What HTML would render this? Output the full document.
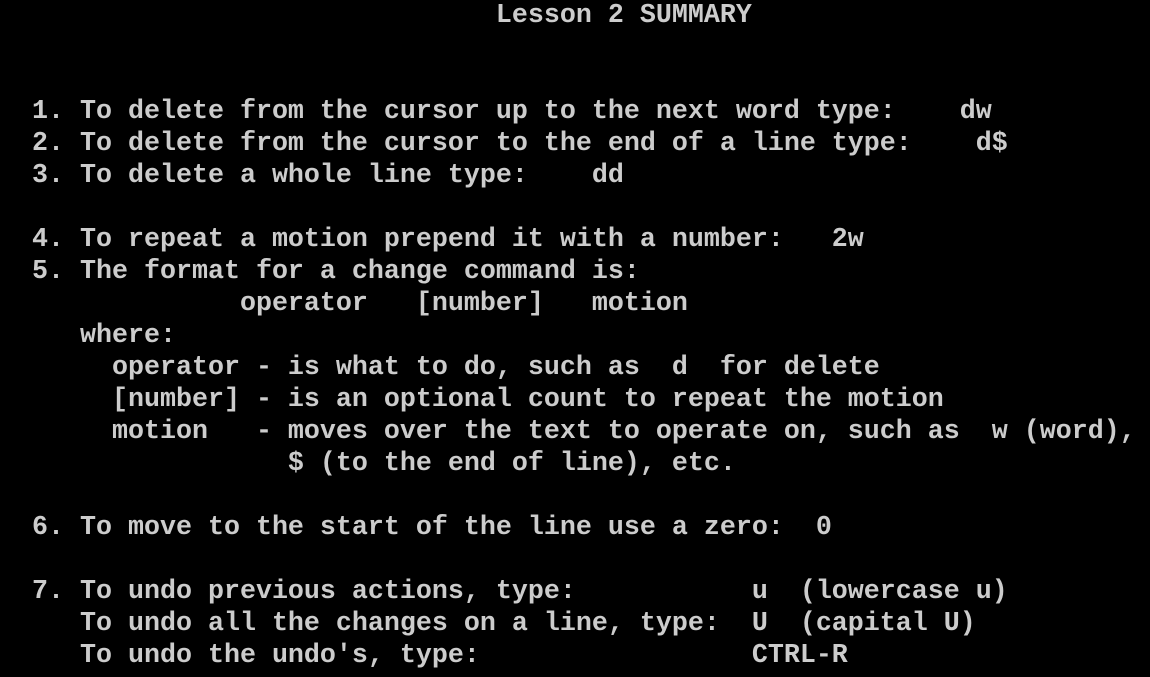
<!DOCTYPE html>
<html><head><meta charset="utf-8"><style>
html,body{margin:0;padding:0;background:#000;width:1150px;height:677px;overflow:hidden}
pre{margin:0;position:absolute;left:0;top:0;font-family:"Liberation Mono",monospace;font-size:26.67px;line-height:32px;color:#cccccc;font-weight:bold;white-space:pre}
</style></head><body>
<pre>                               Lesson 2 SUMMARY


  1. To delete from the cursor up to the next word type:    dw
  2. To delete from the cursor to the end of a line type:    d$
  3. To delete a whole line type:    dd

  4. To repeat a motion prepend it with a number:   2w
  5. The format for a change command is:
               operator   [number]   motion
     where:
       operator - is what to do, such as  d  for delete
       [number] - is an optional count to repeat the motion
       motion   - moves over the text to operate on, such as  w (word),
                  $ (to the end of line), etc.

  6. To move to the start of the line use a zero:  0

  7. To undo previous actions, type:           u  (lowercase u)
     To undo all the changes on a line, type:  U  (capital U)
     To undo the undo's, type:                 CTRL-R</pre>
</body></html>
